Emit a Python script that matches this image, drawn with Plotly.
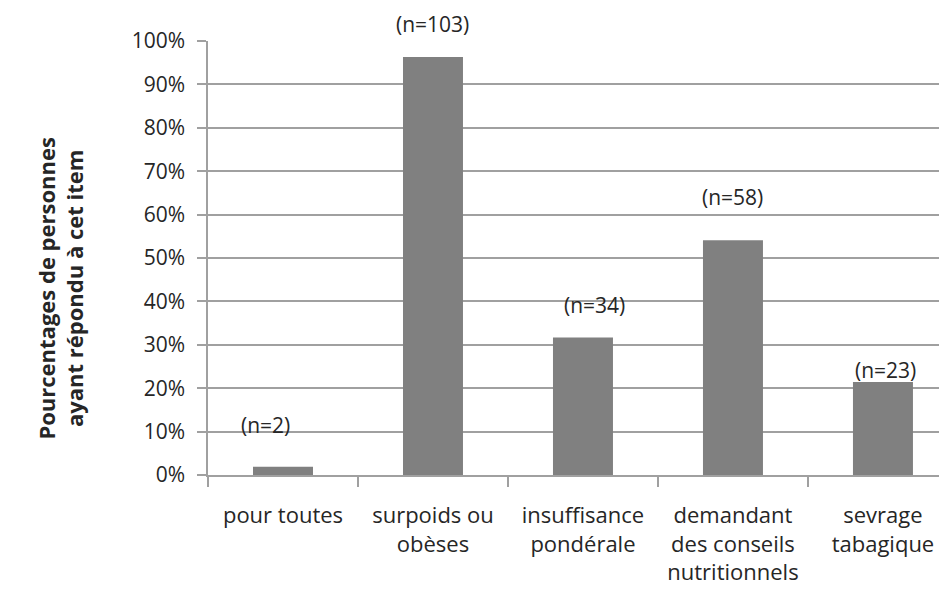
import plotly.graph_objects as go

categories = ["pour toutes", "surpoids ou<br>obèses", "insuffisance<br>pondérale",
              "demandant<br>des conseils<br>nutritionnels", "sevrage<br>tabagique"]
percentages = [0.019, 0.963, 0.317, 0.541, 0.214]
counts = [2, 103, 34, 58, 23]
y_ticks = [0, 0.1, 0.2, 0.3, 0.4, 0.5, 0.6, 0.7, 0.8, 0.9, 1.0]

# label placement (category index offset, height as fraction of the plot)
label_dx = [-0.12, 0.0, 0.08, 0.0, 0.015]
label_y = [0.115, 1.04, 0.392, 0.64, 0.242]

FONT = "Open Sans"
TEXT = "#262626"
GRID = "#a0a0a0"

fig = go.Figure(go.Bar(x=categories, y=percentages, marker_color="#808080",
                       marker_line_width=0, hoverinfo="skip"))

for i, n in enumerate(counts):
    fig.add_annotation(x=i + label_dx[i], y=label_y[i], yref="paper", yanchor="middle",
                       text=f"(n={n})", showarrow=False,
                       font=dict(family=FONT, size=21, color=TEXT))

fig.add_annotation(text="<b>Pourcentages de personnes<br>ayant répondu à cet item</b>",
                   xref="paper", yref="paper", x=-0.2, y=0.43, textangle=-90,
                   xanchor="center", yanchor="middle", showarrow=False,
                   font=dict(family=FONT, size=22, color=TEXT))

# page has an 8px body margin, so the figure is a bit smaller and shifted
fig.update_layout(
    width=939, height=586,
    margin=dict(l=200, r=0, t=33, b=119),
    paper_bgcolor="white", plot_bgcolor="white",
    bargap=0.6, showlegend=False,
    font=dict(family=FONT, size=21, color=TEXT),
)
fig.update_xaxes(type="category", range=[-0.5, 4.427], tickson="boundaries",
                 ticks="outside", ticklen=10, tickcolor=GRID, tickwidth=1.5,
                 showline=True, linecolor=GRID, linewidth=1.5, showgrid=False,
                 tickfont=dict(size=22), ticklabelstandoff=20, automargin=False)
fig.update_yaxes(range=[0, 1], tickvals=y_ticks, tickformat=".0%",
                 ticks="outside", ticklen=9, tickcolor=GRID, tickwidth=1.5,
                 showline=True, linecolor=GRID, linewidth=1.5,
                 showgrid=True, gridcolor=GRID, gridwidth=1.5, zeroline=False,
                 ticklabelstandoff=8, automargin=False)

fig.write_html("out.html")
